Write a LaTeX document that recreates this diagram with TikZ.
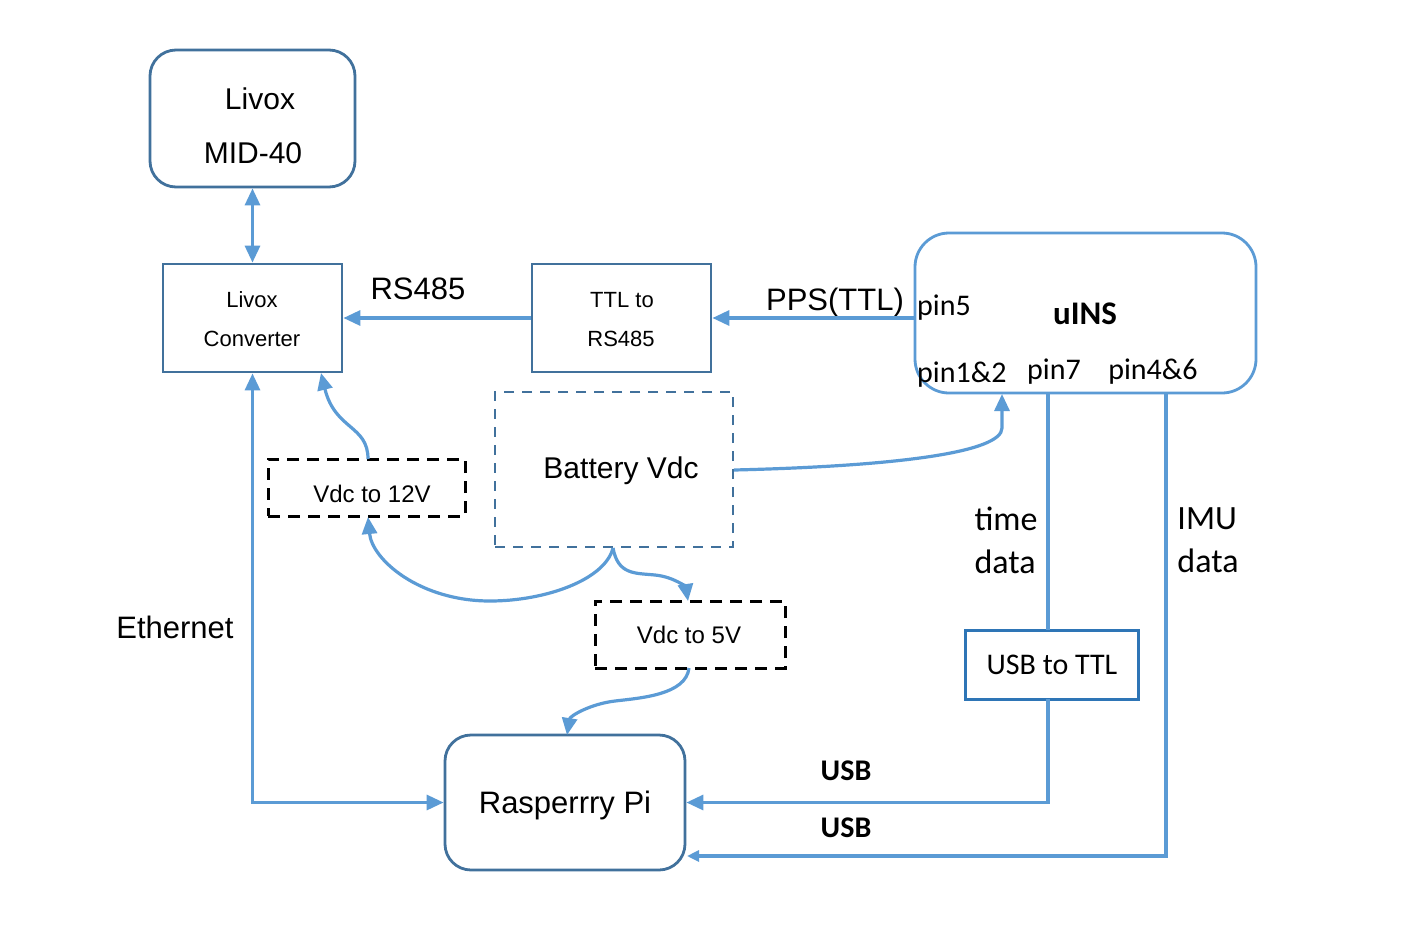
\documentclass[tikz,border=0pt]{standalone}
\usepackage{fontspec}
\setmainfont{Liberation Sans}
\newfontfamily\carlito{Carlito}
\usetikzlibrary{arrows.meta}
\definecolor{lineblue}{HTML}{5B9BD5}
\definecolor{boxblue}{HTML}{41719C}
\definecolor{ttlblue}{HTML}{2E75B6}
\newcommand{\fs}[1]{\fontsize{#1}{#1}\selectfont}
\tikzset{
  x=1pt, y=-1pt,
  tipA/.tip={Triangle[length=17pt,width=15pt]},
  conn/.style={draw=lineblue, line width=3.2pt, -tipA},
  plainconn/.style={draw=lineblue, line width=3.2pt},
  darkbox/.style={draw=boxblue, line width=2.8pt, align=center, inner sep=0pt},
  roundbox/.style={darkbox, rounded corners=26pt},
  blackdash/.style={draw=black, line width=3pt, dash pattern=on 12pt off 8pt, inner sep=0pt},
  lbl/.style={inner sep=0pt, anchor=center},
}
\begin{document}
\begin{tikzpicture}
\useasboundingbox[fill=white] (0,0) rectangle (1405,943);
% boxes
\node[roundbox, minimum width=205pt, minimum height=137pt] (mid) at (252.5,118.5) {};
\node[lbl, font=\fs{30}] (midt1) at (260,99) {Livox};
\node[lbl, font=\fs{30}] (midt2) at (253,153) {MID-40};
\node[darkbox, minimum width=179pt, minimum height=108pt] (conv) at (252.5,318) {};
\node[lbl, font=\fs{22}] (convt1) at (252,300) {Livox};
\node[lbl, font=\fs{22}] (convt2) at (252,339) {Converter};
\node[darkbox, minimum width=179pt, minimum height=108pt] (ttl) at (621.5,318) {};
\node[lbl, font=\fs{22}] (ttlt1) at (622,300) {TTL to};
\node[lbl, font=\fs{22}] (ttlt2) at (621,339) {RS485};
\node[draw=lineblue, line width=2.8pt, rounded corners=34pt, minimum width=341pt, minimum height=160pt, inner sep=0pt] (uins) at (1085.5,313) {};
\node[lbl, font=\carlito\bfseries\fs{33}] (uinst) at (1085,314) {uINS};
\node[lbl, font=\carlito\fs{30}, anchor=west] (pin5) at (917,308) {pin5};
\node[lbl, font=\carlito\fs{30}, anchor=west] (pin12) at (917,375) {pin1\&2};
\node[lbl, font=\carlito\fs{30}] (pin7) at (1054,372) {pin7};
\node[lbl, font=\carlito\fs{30}] (pin46) at (1153,372) {pin4\&6};
\node[draw=boxblue, line width=2.6pt, dash pattern=on 10pt off 8pt, minimum width=238pt, minimum height=155pt, inner sep=0pt] (batt) at (614,469.5) {};
\node[lbl, font=\fs{30}] (battt) at (621,471) {Battery Vdc};
\node[blackdash, minimum width=197pt, minimum height=57pt] (v12) at (366.5,487.5) {};
\node[lbl, font=\fs{24}] (v12t) at (372,494) {Vdc to 12V};
\node[blackdash, minimum width=190pt, minimum height=67pt] (v5) at (690,634.5) {};
\node[lbl, font=\fs{24}] (v5t) at (689,635) {Vdc to 5V};
\node[draw=ttlblue, line width=3pt, minimum width=173pt, minimum height=69pt, inner sep=0pt] (usbttl) at (1051.5,664.5) {};
\node[lbl, font=\carlito\fs{30}] (usbttlt) at (1052,665) {USB to TTL};
\node[roundbox, minimum width=240pt, minimum height=135pt] (rpi) at (565,802.5) {};
\node[lbl, font=\fs{31}] (rpit) at (565,805) {Rasperrry Pi};
% labels
\node[lbl, font=\fs{31}] (rs485) at (418,289) {RS485};
\node[lbl, font=\fs{31}] (pps) at (835,302) {PPS(TTL)};
\node[lbl, font=\fs{31}] (eth) at (175,627) {Ethernet};
\node[lbl, font=\carlito\fs{34}, align=left] (timed) at (1006,540) {time\\[9pt]data};
\node[lbl, font=\carlito\fs{34}, align=left] (imud) at (1208,540) {IMU\\[9pt]data};
\node[lbl, font=\carlito\bfseries\fs{30}] (usb1) at (846,771) {USB};
\node[lbl, font=\carlito\bfseries\fs{30}] (usb2) at (846,828) {USB};
% coordinates
\coordinate (pin5pt) at (915,318);
\coordinate (p12pt) at (1002,394);
\coordinate (p7pt) at (1048,394);
\coordinate (p46pt) at (1166,394);
\coordinate (usbtop) at (1048,630);
\coordinate (usbbot) at (1048,699);
\coordinate (imucorner) at (1166,856);
\coordinate (rpiB) at (687,856);
\coordinate (battbot) at (613,548);
\coordinate (battright) at (734,470);
\coordinate (v12top) at (368,459);
\coordinate (v12bot) at (368,517);
\coordinate (convbot) at (321,373);
\coordinate (v5top) at (688,601);
\coordinate (v5bot) at (689,668);
\coordinate (rpitop) at (567,735);
% connectors
\draw[conn, tipA-tipA] (mid.south) -- (conv.north);
\draw[conn] (ttl.west) -- (conv.east);
\draw[conn] (pin5pt) -- (ttl.east);
\draw[conn, tipA-tipA] (conv.south) |- (rpi.west);
\draw[conn] (v12top) .. controls (368,425) and (335,430) .. (convbot);
\draw[conn] (battbot) .. controls (605,580) and (545,601) .. (490,601) .. controls (420,601) and (372,560) .. (v12bot);
\draw[conn] (battbot) .. controls (618,575) and (635,573) .. (655,575) .. controls (675,577) and (686,588) .. (v5top);
\draw[conn] (v5bot) .. controls (686,695) and (640,698) .. (615,701) .. controls (590,704) and (570,716) .. (rpitop);
\draw[conn] (battright) .. controls (900,466) and (1002,452) .. (1002,428) -- (p12pt);
\draw[plainconn] (p7pt) -- (usbtop);
\draw[conn] (usbbot) |- (rpi.east);
\draw[plainconn, -{Triangle[length=12pt,width=11pt]}] (p46pt) -- (imucorner) -- (rpiB);
\end{tikzpicture}
\end{document}
